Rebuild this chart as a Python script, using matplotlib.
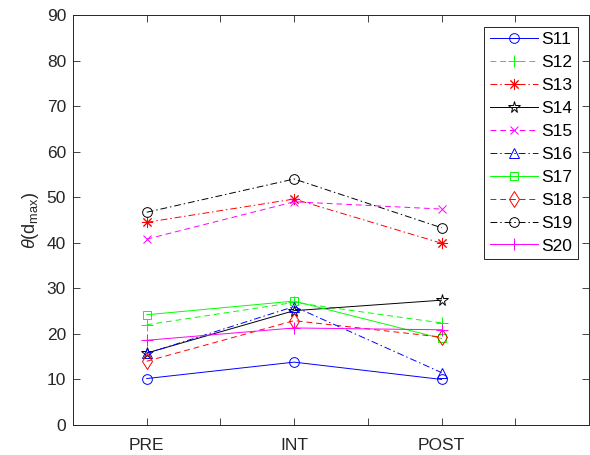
import matplotlib
matplotlib.use("Agg")
import matplotlib.pyplot as plt

plt.rcParams['font.family'] = ['Liberation Sans', 'DejaVu Sans']
plt.rcParams['mathtext.fontset'] = 'custom'
plt.rcParams['mathtext.rm'] = 'Liberation Sans'
plt.rcParams['mathtext.it'] = 'Liberation Sans:italic'

phases = ['PRE', 'INT', 'POST']
subjects = ['S11', 'S12', 'S13', 'S14', 'S15', 'S16', 'S17', 'S18', 'S19', 'S20']
S11 = [10.2, 13.8, 10.0]
S12 = [22.0, 26.9, 22.4]
S13 = [44.5, 49.6, 39.9]
S14 = [15.8, 25.1, 27.4]
S15 = [40.8, 49.0, 47.4]
S16 = [15.7, 26.0, 11.5]
S17 = [24.2, 27.2, 19.0]
S18 = [14.0, 22.9, 19.3]
S19 = [46.7, 54.0, 43.3]
S20 = [18.6, 21.3, 20.9]
values = [S11, S12, S13, S14, S15, S16, S17, S18, S19, S20]

dash = (0, (6, 4))
dashdot = (0, (7, 3, 1.5, 3))
styles = [
    dict(color='#0000ff', ls='-', marker='o'),
    dict(color='#00ff00', ls=dash, marker='+'),
    dict(color='#ff0000', ls=dashdot, marker=(8, 2, 0)),
    dict(color='#000000', ls='-', marker='*'),
    dict(color='#ff00ff', ls=dash, marker='x'),
    dict(color='#0000ff', ls=dashdot, marker='^'),
    dict(color='#00ff00', ls='-', marker='s'),
    dict(color='#ff0000', ls=dash, marker='d'),
    dict(color='#000000', ls=dashdot, marker='o'),
    dict(color='#ff00ff', ls='-', marker='+'),
]
msizes = {'o': 7, '+': 8, 'x': 6, '*': 8.5, '^': 7, 's': 6, 'd': 8}

fig = plt.figure(figsize=(5.9, 4.55), dpi=100)
ax = fig.add_axes([73/590, 30/455, 516/590, 410/455])

xpos = [1, 2, 3]
for name, vals, st in zip(subjects, values, styles):
    m = st['marker']
    ms = msizes.get(m, 8) if isinstance(m, str) else 8
    ax.plot(xpos, vals, color=st['color'], linestyle=st['ls'], marker=m,
            markersize=ms, markerfacecolor='none', markeredgecolor=st['color'],
            markeredgewidth=0.7, linewidth=0.7, label=name)

ax.set_xlim(0.5, 4.0)
ax.set_ylim(0, 90)
ax.set_xticks([1, 1.5, 2, 2.5, 3, 3.5])
ax.set_xticklabels(['PRE', '', 'INT', '', 'POST', ''])
ax.set_yticks(range(0, 91, 10))
ax.tick_params(direction='in', length=5, width=0.6, colors='#262626',
               labelsize=12.5, top=True, right=True, pad=5)
ax.tick_params(axis='x', pad=9)
for sp in ax.spines.values():
    sp.set_color('#262626')
    sp.set_linewidth(0.7)
ax.set_ylabel(r'$\mathit{\theta}$(d$_{\mathrm{max}}$)', fontsize=13, color='#262626', labelpad=4)

leg = ax.legend(loc='upper right', bbox_to_anchor=(578/590, 1 - 26.5/455), bbox_transform=fig.transFigure,
                fontsize=12.5, frameon=True, fancybox=False, edgecolor='#262626',
                framealpha=1, handlelength=2.8, labelspacing=0.45, borderpad=0.3,
                handletextpad=0.2, borderaxespad=0)
leg.get_frame().set_linewidth(0.7)

fig.savefig('out.png', dpi=100)
